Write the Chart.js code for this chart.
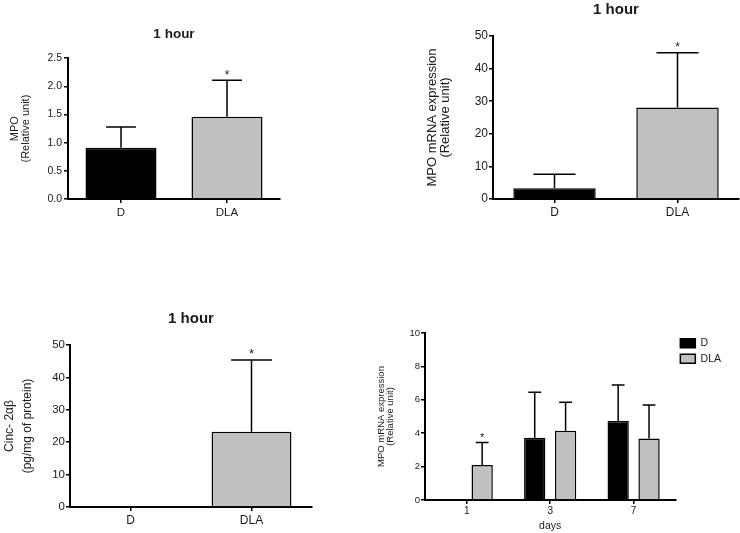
<!DOCTYPE html>
<html>
<head>
<meta charset="utf-8">
<script src="https://cdn.jsdelivr.net/npm/chart.js@4.4.1/dist/chart.umd.min.js"></script>
<style>
    body { margin: 0; background: #fff; }
    #wrap { position: relative; width: 740px; height: 533px; overflow: hidden; }
    #wrap canvas { position: absolute; }
</style>
</head>
<body>
<div id="wrap">
    <canvas id="mpoChart" width="300" height="230" style="left:0;top:0"></canvas>
    <canvas id="mrnaChart" width="360" height="230" style="left:380px;top:0"></canvas>
    <canvas id="cincChart" width="330" height="263" style="left:0;top:270px"></canvas>
    <canvas id="daysChart" width="370" height="223" style="left:370px;top:310px"></canvas>
</div>
<script>
// данные
const groups = ['D', 'DLA'];

const mpoValues = [0.91, 1.46];
const mpoErrors = [0.37, 0.65];
const mpoStars = ['', '*'];
const mpoTicks = [0, 0.5, 1, 1.5, 2, 2.5];

const mrnaValues = [3.3, 28.1];
const mrnaErrors = [4.3, 16.8];
const mrnaStars = ['', '*'];
const mrnaTicks = [0, 10, 20, 30, 40, 50];

const cincValues = [0, 23.2];
const cincErrors = [0, 22.2];
const cincStars = ['', '*'];
const cincTicks = [0, 10, 20, 30, 40, 50];

const days = ['1', '3', '7'];
const daysD = [0, 3.73, 4.73];
const daysDErrors = [0, 2.72, 2.16];
const daysDStars = ['', '', ''];
const daysDLA = [2.1, 4.15, 3.69];
const daysDLAErrors = [1.35, 1.7, 2.0];
const daysDLAStars = ['*', '', ''];
const daysTicks = [0, 2, 4, 6, 8, 10];

const BLACK = '#000000';
const GRAY = '#c0c0c0';
const TEXT = '#1a1a1a';
const FONT = "'Liberation Sans', Arial, sans-serif";

// планки погрешностей (только вверх) и звёздочки над ними
const errorBarPlugin = {
    id: 'errorBars',
    afterDatasetsDraw(chart, args, opts) {
        const ctx = chart.ctx;
        const yScale = chart.scales.y;
        chart.data.datasets.forEach((ds, i) => {
            const meta = chart.getDatasetMeta(i);
            meta.data.forEach((bar, j) => {
                const err = ds.errors[j];
                const top = yScale.getPixelForValue(ds.data[j] + err);
                const cap = bar.width * opts.capRatio / 2;
                ctx.save();
                ctx.strokeStyle = BLACK;
                ctx.lineWidth = 1.5;
                if (err > 0) {
                    ctx.beginPath();
                    ctx.moveTo(bar.x, bar.y);
                    ctx.lineTo(bar.x, top);
                    ctx.moveTo(bar.x - cap, top);
                    ctx.lineTo(bar.x + cap, top);
                    ctx.stroke();
                }
                if (ds.stars[j]) {
                    ctx.fillStyle = TEXT;
                    ctx.font = opts.starSize + 'px ' + FONT;
                    ctx.textAlign = 'center';
                    ctx.textBaseline = 'alphabetic';
                    ctx.fillText(ds.stars[j], bar.x, top - opts.starGap);
                }
                ctx.restore();
            });
        });
    }
};

function makeDataset(label, values, errors, stars, color, barPct, catPct) {
    return {
        label: label,
        data: values,
        errors: errors,
        stars: stars,
        backgroundColor: color,
        borderColor: BLACK,
        borderWidth: 1.5,
        barPercentage: barPct,
        categoryPercentage: catPct
    };
}

function drawChart(chartId, cfg) {
    const canvas = document.getElementById(chartId);
    return new Chart(canvas, {
        type: 'bar',
        data: { labels: cfg.labels, datasets: cfg.datasets },
        options: {
            responsive: false,
            animation: false,
            layout: { padding: cfg.padding },
            plugins: {
                legend: cfg.legend || { display: false },
                tooltip: { enabled: false },
                title: cfg.title ? {
                    display: true,
                    text: cfg.title.text,
                    fullSize: false,
                    color: TEXT,
                    font: { family: FONT, size: cfg.title.size, weight: 'bold', lineHeight: 1.2 },
                    padding: cfg.title.padding
                } : { display: false },
                errorBars: cfg.errorBars
            },
            scales: {
                x: {
                    offset: true,
                    grid: { offset: false, drawOnChartArea: false, drawTicks: true, tickLength: 4, color: BLACK, lineWidth: 1.5 },
                    border: { display: true, color: BLACK, width: 2 },
                    ticks: { color: TEXT, font: { family: FONT, size: cfg.xFont }, padding: cfg.xPad, maxRotation: 0 },
                    title: cfg.xTitle || { display: false },
                    afterFit: s => { s.height = cfg.xHeight; }
                },
                y: {
                    min: 0,
                    max: cfg.yTicks[cfg.yTicks.length - 1],
                    afterBuildTicks: s => { s.ticks = cfg.yTicks.map(v => ({ value: v })); },
                    grid: { drawOnChartArea: false, drawTicks: true, tickLength: 4, color: BLACK, lineWidth: 1.5 },
                    border: { display: true, color: BLACK, width: 2 },
                    ticks: { color: TEXT, font: { family: FONT, size: cfg.yFont }, padding: cfg.yPad, callback: cfg.yFormat },
                    title: {
                        display: true,
                        text: cfg.yTitle.text,
                        color: TEXT,
                        font: { family: FONT, size: cfg.yTitle.size, lineHeight: cfg.yTitle.lineHeight },
                        padding: { top: cfg.yTitle.pad, bottom: 0 }
                    },
                    afterFit: s => { s.width = cfg.yWidth; }
                }
            }
        },
        plugins: [errorBarPlugin]
    });
}

drawChart('mpoChart', {
    labels: groups,
    datasets: [makeDataset('MPO', mpoValues, mpoErrors, mpoStars, [BLACK, GRAY], 0.67, 1)],
    padding: { top: 0, left: 0, right: 20, bottom: 6 },
    title: { text: '1 hour', size: 13.5, padding: { top: 26, bottom: 16 } },
    yTicks: mpoTicks,
    yFormat: v => v.toFixed(1),
    yTitle: { text: ['MPO', '(Relative unit)'], size: 11, lineHeight: 1, pad: 9.5 },
    yWidth: 68, yFont: 10.5, yPad: 2,
    xFont: 11.5, xPad: 3, xHeight: 25,
    errorBars: { capRatio: 0.42, starSize: 12, starGap: 1 }
});

drawChart('mrnaChart', {
    labels: groups,
    datasets: [makeDataset('MPO mRNA', mrnaValues, mrnaErrors, mrnaStars, [BLACK, GRAY], 0.67, 1)],
    padding: { top: 0, left: 0, right: 1, bottom: 6 },
    title: { text: '1 hour', size: 15, padding: { top: 1, bottom: 17 } },
    yTicks: mrnaTicks,
    yFormat: v => String(v),
    yTitle: { text: ['MPO mRNA expression', '(Relative unit)'], size: 13, lineHeight: 1, pad: 45.5 },
    yWidth: 113, yFont: 12, yPad: 1,
    xFont: 12, xPad: 2, xHeight: 25,
    errorBars: { capRatio: 0.51, starSize: 12, starGap: 2 }
});

drawChart('cincChart', {
    labels: groups,
    datasets: [makeDataset('Cinc', cincValues, cincErrors, cincStars, [BLACK, GRAY], 0.66, 1)],
    padding: { top: 0, left: 0, right: 18, bottom: 4 },
    title: { text: '1 hour', size: 15, padding: { top: 40, bottom: 17 } },
    yTicks: cincTicks,
    yFormat: v => String(v),
    yTitle: { text: ['Cinc- 2αβ', '(pg/mg of protein)'], size: 12, lineHeight: 1.55, pad: 0 },
    yWidth: 70, yFont: 11.5, yPad: 1,
    xFont: 12, xPad: 2.5, xHeight: 22,
    errorBars: { capRatio: 0.51, starSize: 13, starGap: 2 }
});

drawChart('daysChart', {
    labels: days,
    datasets: [
        makeDataset('D', daysD, daysDErrors, daysDStars, BLACK, 0.69, 0.74),
        makeDataset('DLA', daysDLA, daysDLAErrors, daysDLAStars, GRAY, 0.69, 0.74)
    ],
    padding: { top: 23, left: 0, right: 9, bottom: 1 },
    legend: {
        display: true,
        position: 'right',
        align: 'start',
        labels: { color: TEXT, boxWidth: 15, boxHeight: 9, padding: 5, font: { family: FONT, size: 10.5 } }
    },
    yTicks: daysTicks,
    yFormat: v => String(v),
    yTitle: { text: ['MPO mRNA expression', '(Relative unit)'], size: 9.5, lineHeight: 1, pad: 6.25 },
    yWidth: 55, yFont: 9.5, yPad: 1,
    xFont: 10, xPad: 1, xHeight: 32,
    xTitle: { display: true, text: 'days', color: TEXT, font: { family: FONT, size: 10.5, lineHeight: 1.2 }, padding: { top: 0, bottom: 0 } },
    errorBars: { capRatio: 0.6, starSize: 11, starGap: 1 }
});
</script>
</body>
</html>
